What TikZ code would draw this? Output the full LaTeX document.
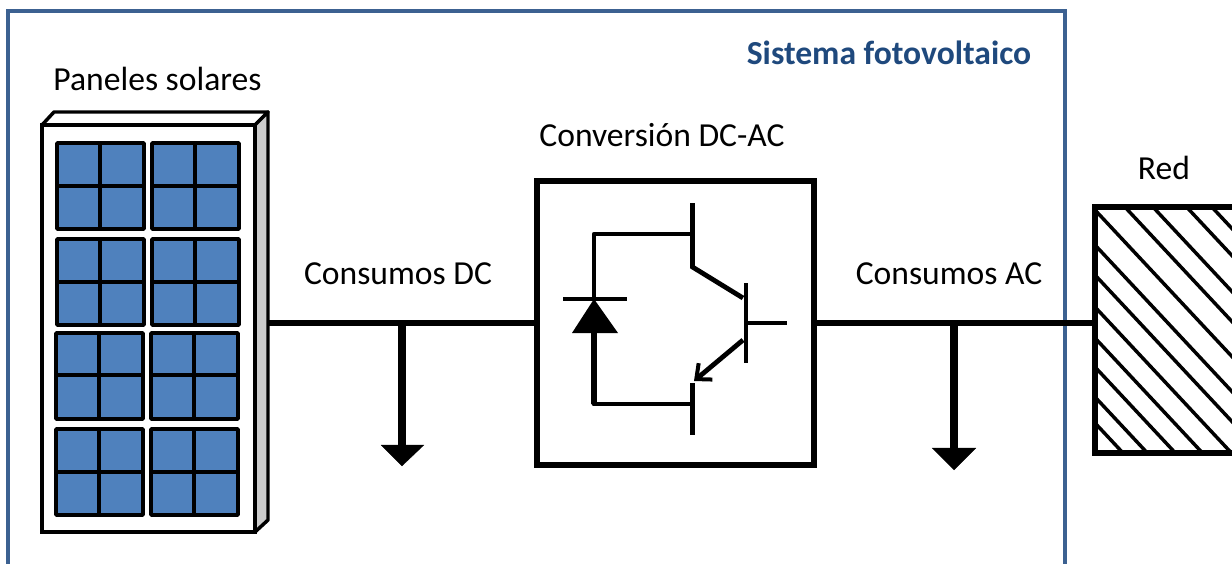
\documentclass[tikz,border=0pt]{standalone}
\usepackage{fontspec}
\setmainfont{Carlito}
\usepackage{tikz}
\usetikzlibrary{arrows.meta,positioning}
\definecolor{cellblue}{RGB}{79, 129, 189}
\definecolor{frameblue}{RGB}{60, 97, 145}
\definecolor{titleblue}{RGB}{31, 73, 125}
\definecolor{sidegray}{RGB}{204, 204, 204}
\tikzstyle{block} = [draw=black, line width=3.8pt, outer sep=0pt, inner sep=0pt]
\tikzstyle{module} = [draw=black, fill=cellblue, line width=2.8pt, rounded corners=0.6pt]
\tikzstyle{crossline} = [draw=black, line width=3.4pt]
\tikzstyle{casing} = [draw=black, line width=2.6pt, line join=round]
\tikzstyle{textonly} = [draw=none, fill=none, text=black, font=\fontsize{25.2}{30}\selectfont]
\tikzstyle{tedge} = [draw=black, line width=4pt]
\tikzstyle{device} = [draw=black, line width=3.6pt]
\tikzstyle{load} = [draw=black, fill=black, line width=0.1pt]

\begin{document}
\begin{tikzpicture}[x=0.75pt, y=-0.75pt]
\useasboundingbox (0,0) rectangle (1232,564);
\clip (0,0) rectangle (1232,564);

% frame =============================
\node[draw=frameblue, line width=2.6pt, outer sep=0pt, minimum width=792.75pt, minimum height=450pt] (frame) at (536.5,311) {};
\node[textonly, text=titleblue, font=\fontsize{25.2}{30}\selectfont\bfseries] (title) at (889,53) {Sistema fotovoltaico};

% panels =============================
\draw[casing, fill=white] (42,125) -- (54,112) -- (268,112) -- (255,125) -- cycle;
\draw[casing, fill=sidegray] (255,125) -- (268,112) -- (268,520) -- (255,532) -- cycle;
\node[block, fill=white, line width=2.6pt, minimum width=160pt, minimum height=305pt] (panel) at (148.5,328.5) {};
\coordinate (panelout) at (268,323);
\foreach \xa/\ya/\xm/\ym in {57/143/100/186, 152/143/195/186, 57/239/100/282, 152/239/195/282, 56/333/99/375, 151/333/194/375, 56/429/99/472, 151/429/194/472} {
  \draw[module] (\xa,\ya) rectangle ++(87,86);
  \draw[crossline] (\xm,\ya) -- (\xm,\ya+86);
  \draw[crossline] (\xa,\ym) -- (\xa+87,\ym);
}
\node[textonly] (paneltext) at (157.5,79) {Paneles solares};

% converter =============================
\node[block, minimum width=207.75pt, minimum height=213pt] (conv) at (675.5,323) {};
\node[textonly] (convtext) at (662,135) {Conversión DC-AC};
\coordinate (ctop) at (692.5,203);
\coordinate (cknee) at (692.5,267);
\coordinate (cjoin) at (692.5,234);
\coordinate (ejoin) at (692.5,404);
\coordinate (etip) at (694,381);
\coordinate (ebot) at (692.5,435);
\coordinate (ltop) at (594,234);
\coordinate (lbot) at (594,404);
\coordinate (danode) at (594,333);
\coordinate (dcath) at (594,299);
\coordinate (gbar) at (746,323);
\coordinate (gend) at (787,323);
\path[device, line join=round] (cjoin) -- (ltop) -- (dcath);
\path[device] (563,299) -- (627,299);
\fill[black] (dcath) -- (618,333) -- (572,333) -- cycle;
\path[device, line width=5.2pt] (danode) -- (lbot);
\path[device, line cap=round] (lbot) -- (ejoin);
\path[device] (ctop) -- (cknee) -- (743,298);
\path[device] (746,283) -- (746,363);
\path[device] (gbar) -- (gend);
\path[device] (692.5,383) -- (ebot);
\path[device, -{Straight Barb[length=9pt, width=16pt, line width=3pt]}] (743,340) -- (etip);

% grid =============================
\begin{scope}
\clip (1095,207) rectangle (1240,453);
\foreach \ys in {82,109,145,175,210,245,275,307,338,367,397,423} {
  \draw[black, line width=2.6pt] (1095,\ys) -- ++(300,321);
}
\end{scope}
\node[block, minimum width=123.75pt, minimum height=184.5pt] (grid) at (1177.5,330) {};
\node[textonly] (gridtext) at (1164,168) {Red};

% edges
\node[textonly] (dctext) at (398,274) {Consumos DC};
\node[textonly] (actext) at (949,274) {Consumos AC};
\coordinate (dcjoin) at (402,323);
\coordinate (dcend) at (402,445);
\coordinate (acjoin) at (954,323);
\coordinate (acend) at (954,448);
\path[tedge] (panelout) -- (conv.west);
\path[tedge] (conv.east) -- (conv.east -| grid.west);
\path[tedge, line width=6pt] (dcjoin) -- (dcend);
\path[tedge, line width=6pt] (acjoin) -- (acend);
\path[load] (381,445) -- (424,445) -- (402,466) -- cycle;
\path[load] (932,448) -- (976,448) -- (954,470) -- cycle;

\end{tikzpicture}
\end{document}
